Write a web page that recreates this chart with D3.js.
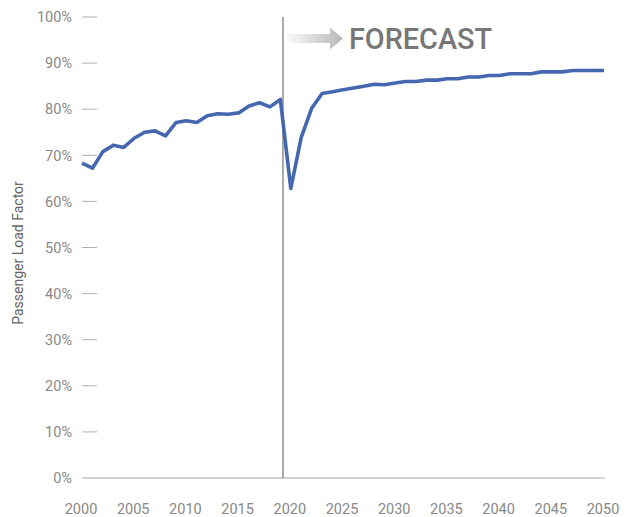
<!DOCTYPE html>
<html><head><meta charset="utf-8">
<script src="https://cdn.jsdelivr.net/npm/d3@7"></script>
<style>body{margin:0;background:#fff}svg{display:block}</style>
</head><body>
<svg id="c" width="628" height="517"></svg>
<script>
const years = d3.range(2000, 2051);
const loadFactor = [
  68.3, 67.2, 70.8, 72.2, 71.7, 73.7, 75.0, 75.3, 74.2, 77.1,
  77.5, 77.1, 78.6, 79.0, 78.9, 79.2, 80.7, 81.4, 80.5, 82.1,
  62.8, 73.9, 80.2, 83.4, 83.8, 84.2, 84.6, 85.0, 85.4, 85.3,
  85.7, 86.0, 86.0, 86.3, 86.3, 86.6, 86.6, 87.0, 87.0, 87.3,
  87.3, 87.7, 87.7, 87.7, 88.1, 88.1, 88.1, 88.4, 88.4, 88.4, 88.4
];
const yTicks = [0,10,20,30,40,50,60,70,80,90,100];
const xTicks = [2000,2005,2010,2015,2020,2025,2030,2035,2040,2045,2050];
const forecastYear = 2019.25;
const yTitle = "Passenger Load Factor";
const forecastLabel = "FORECAST";

const svg = d3.select("#c");
const font = "Roboto, 'DejaVu Sans', sans-serif";
const x = d3.scaleLinear().domain([2000, 2050]).range([82, 604]);
const y = d3.scaleLinear().domain([0, 100]).range([478, 17]);

// y ticks
const yg = svg.append("g");
yTicks.forEach(t => {
  if (t > 0) yg.append("line").attr("x1", 82).attr("x2", 97).attr("y1", y(t)).attr("y2", y(t))
    .attr("stroke", "#b0b0b0").attr("stroke-width", 1);
  yg.append("text").attr("x", 72).attr("y", y(t)).attr("dy", "0.36em")
    .attr("text-anchor", "end").attr("font-family", font).attr("font-size", 14.5)
    .attr("fill", "#888").text(t + "%");
});
// baseline
svg.append("line").attr("x1", x(2000)).attr("x2", x(2050) + 1).attr("y1", y(0)).attr("y2", y(0))
  .attr("stroke", "#a8a8a8").attr("stroke-width", 1);

// x labels
xTicks.forEach(t => {
  svg.append("text").attr("x", x(t) - 1).attr("y", 514).attr("text-anchor", "middle")
    .attr("font-family", font).attr("font-size", 14.5).attr("fill", "#888").text(t);
});

// y title
svg.append("text").attr("transform", "translate(23,253) rotate(-90)")
  .attr("text-anchor", "middle").attr("font-family", font).attr("font-size", 14)
  .attr("fill", "#666").text(yTitle);

// forecast line
svg.append("line").attr("x1", x(forecastYear)).attr("x2", x(forecastYear))
  .attr("y1", y(100)).attr("y2", y(0)).attr("stroke", "#555").attr("stroke-width", 1);

// arrow
const defs = svg.append("defs");
const grad = defs.append("linearGradient").attr("id", "ag").attr("x1", "0").attr("x2", "1");
grad.append("stop").attr("offset", "0").attr("stop-color", "#fafafa");
grad.append("stop").attr("offset", "1").attr("stop-color", "#b8b8b8");
const ax0 = 287, ax1 = 330, ax2 = 343, ay = 38.5;
svg.append("path")
  .attr("d", `M${ax0},${ay-4.5}L${ax1},${ay-4.5}L${ax1},${ay-11}L${ax2},${ay}L${ax1},${ay+11}L${ax1},${ay+4.5}L${ax0},${ay+4.5}Z`)
  .attr("fill", "url(#ag)");
svg.append("text").attr("x", 349).attr("y", 48.5).attr("font-family", font)
  .attr("font-size", 29).attr("font-weight", 500).attr("fill", "#777")
  .attr("textLength", 143).attr("lengthAdjust", "spacingAndGlyphs").text(forecastLabel);

// line
const line = d3.line().x((d, i) => x(years[i])).y(d => y(d));
svg.append("path").datum(loadFactor).attr("d", line).attr("fill", "none")
  .attr("stroke", "#4467b0").attr("stroke-width", 3.6).attr("stroke-linejoin", "round");
</script>
</body></html>
